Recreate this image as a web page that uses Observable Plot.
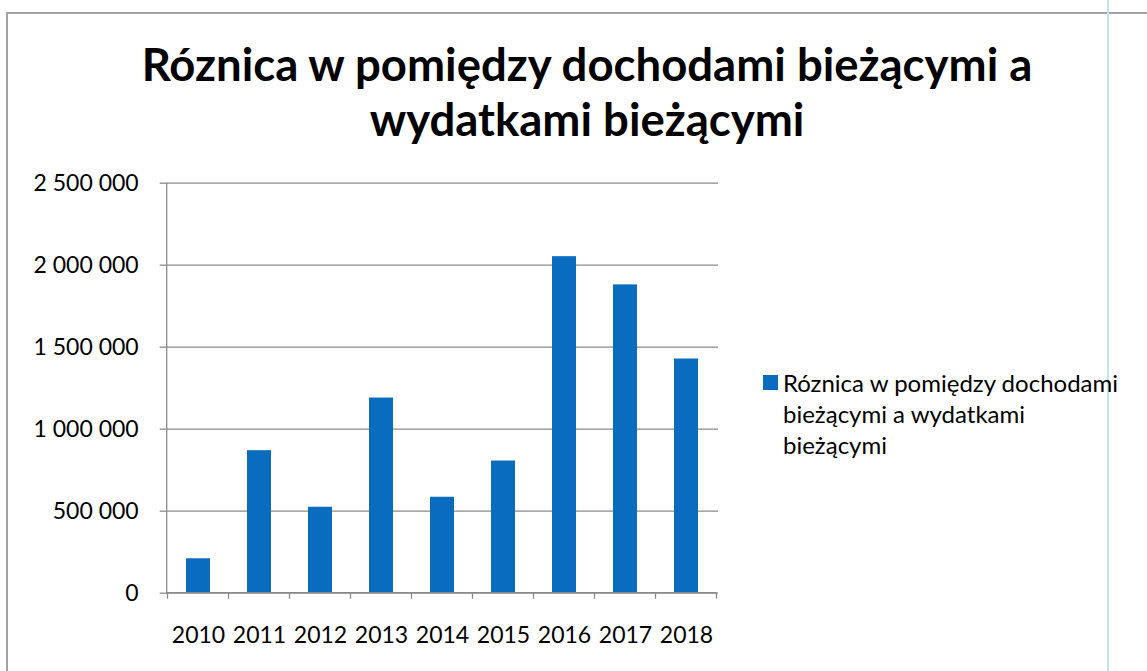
<!DOCTYPE html>
<html>
<head>
<meta charset="utf-8">
<script src="https://cdn.jsdelivr.net/npm/d3@7"></script>
<script src="https://cdn.jsdelivr.net/npm/@observablehq/plot@0.6"></script>
<style>
  html, body { margin: 0; padding: 0; background: #fff; }
  body { width: 1147px; height: 671px; position: relative; overflow: hidden; font-family: Lato, "Open Sans", sans-serif; }
  #border { position: absolute; left: 6px; top: 12px; width: 1150px; height: 700px;
            border-top: 2px solid #a3a3a3; border-left: 2px solid #a3a3a3; }
  #blue { position: absolute; left: 1107px; top: 0; width: 2px; height: 671px; background: #bfe6f6; }
  #title { position: absolute; left: 87px; width: 1000px; top: 36px; text-align: center;
           font-weight: 700; font-size: 45.5px; line-height: 55px; color: #000; }
  #chart { position: absolute; left: 0; top: 160px; }
  #legend { position: absolute; left: 763px; top: 367px; width: 380px; display: flex; align-items: flex-start;
            font-size: 24px; line-height: 31px; color: #000; }
  #legend .sw { width: 15px; height: 15px; margin-top: 8px; margin-right: 5px; flex: none; }
  #legend .lab { width: 340px; }
</style>
</head>
<body>
<div id="border"></div>
<div id="blue"></div>
<div id="title"></div>
<div id="chart"></div>
<div id="legend"></div>
<script>
const titleLines = ["Róznica w pomiędzy dochodami bieżącymi a", "wydatkami bieżącymi"];
const seriesName = "Róznica w pomiędzy dochodami bieżącymi a wydatkami bieżącymi";
const years = ["2010", "2011", "2012", "2013", "2014", "2015", "2016", "2017", "2018"];
const values = [210000, 869000, 524000, 1190000, 585000, 806000, 2052000, 1880000, 1428000];
const yTicks = [0, 500000, 1000000, 1500000, 2000000, 2500000];

const BLUE = "#0a6cbf";
const GRID = "#8a8a8a";

const data = years.map((y, i) => ({year: y, value: values[i]}));

document.getElementById("title").innerHTML = titleLines.join("<br>");
document.getElementById("legend").innerHTML =
  `<div class="sw" style="background:${BLUE}"></div><div class="lab">${seriesName}</div>`;

const fmt = d => d3.format(",")(d).replace(/,/g, " ");

function axisLines(index, scales, values, dimensions) {
  const {x, y} = scales;
  const {marginLeft, marginTop} = dimensions;
  const g = d3.create("svg:g").attr("stroke", GRID).attr("stroke-width", 1.3).attr("fill", "none");
  const y0 = y(0);
  const step = x.step(), bw = x.bandwidth();
  const start = x(years[0]) - (step - bw) / 2;
  const end = start + step * years.length;
  g.append("line").attr("x1", marginLeft).attr("x2", marginLeft).attr("y1", marginTop).attr("y2", y0 + 0.5);
  g.append("line").attr("x1", marginLeft).attr("x2", end).attr("y1", y0).attr("y2", y0);
  for (let i = 0; i <= years.length; i++) {
    const xp = start + i * step;
    g.append("line").attr("x1", xp).attr("x2", xp).attr("y1", y0).attr("y2", y0 + 6);
  }
  return g.node();
}

const plot = Plot.plot({
  width: 740,
  height: 500,
  marginTop: 22.7,
  marginBottom: 67.3,
  marginLeft: 166.7,
  marginRight: 22,
  style: {fontFamily: "Lato, 'Open Sans', sans-serif", fontSize: "23px", color: "#000", background: "transparent"},
  x: {domain: years, paddingInner: 0.6, paddingOuter: 0.3, label: null},
  y: {domain: [0, 2500000], label: null},
  marks: [
    Plot.gridY(yTicks, {stroke: GRID, strokeOpacity: 1, strokeWidth: 1.3}),
    Plot.barY(data, {x: "year", y: "value", fill: BLUE}),
    Plot.axisY({ticks: yTicks, tickFormat: fmt, tickSize: 7, tickPadding: 21.5, stroke: GRID, strokeWidth: 1.3, strokeOpacity: 1, label: null}),
    Plot.axisX({tickSize: 0, tickPadding: 33, label: null}),
    axisLines
  ]
});
document.getElementById("chart").appendChild(plot);
</script>
</body>
</html>
